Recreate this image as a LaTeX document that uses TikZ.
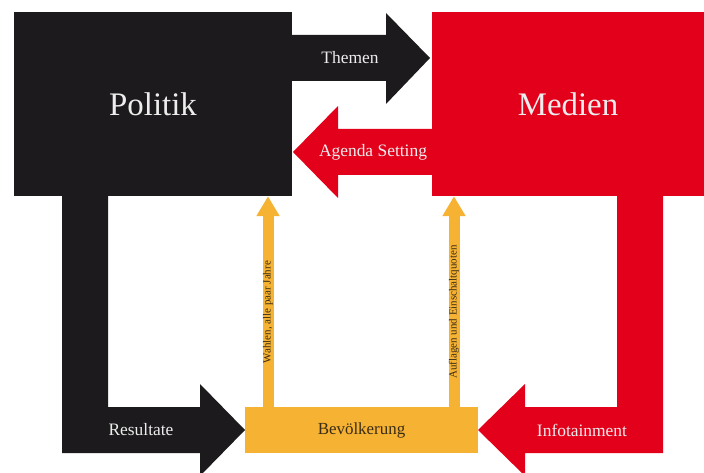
\documentclass[tikz,border=0pt]{standalone}
\usepackage{fontspec}
\setmainfont{Liberation Serif}
\usetikzlibrary{arrows.meta}
\definecolor{politikblack}{HTML}{1C1A1C}
\definecolor{medienred}{HTML}{E2001A}
\definecolor{volkyellow}{HTML}{F6B233}
\definecolor{volktext}{HTML}{3A2C16}
\tikzset{
  bigbox/.style={inner sep=0pt, text=white!93!black, font=\fontsize{33}{40}\selectfont},
  flowlabel/.style={text=white!93!black, font=\fontsize{17.5}{20}\selectfont},
  voterarrow/.style={draw=volkyellow, line width=11bp, -{Triangle[width=22bp,length=20bp]}},
  voterlabel/.style={text=volktext, font=\fontsize{11}{13}\selectfont, sloped, pos=.45}
}
\begin{document}
\begin{tikzpicture}[x=1bp,y=-1bp]
        \useasboundingbox (0,0) rectangle (704,473);

        % boxes
        \node[bigbox, fill=politikblack, minimum width=278bp, minimum height=184bp] (politik) at (153,104) {Politik};
        \node[bigbox, fill=medienred, minimum width=272bp, minimum height=184bp] (medien) at (568,104) {Medien};
        \node[inner sep=0pt, fill=volkyellow, text=volktext, font=\fontsize{17}{20}\selectfont,
              minimum width=233bp, minimum height=46bp] (volk) at (361.5,430) {Bevölkerung};

        % block arrows
        \fill[politikblack] (292,35) -- (386,35) -- (386,13) -- (430,58) -- (386,104) -- (386,81) -- (292,81) -- cycle;
        \fill[medienred] (432,129) -- (338,129) -- (338,106) -- (293,152) -- (338,198) -- (338,175) -- (432,175) -- cycle;
        \fill[politikblack] (62,196) -- (108,196) -- (108,407) -- (200,407) -- (200,384) -- (245,430)
              -- (200,476) -- (200,453) -- (62,453) -- cycle;
        \fill[medienred] (663,196) -- (617,196) -- (617,407) -- (525,407) -- (525,384) -- (478,430)
              -- (525,476) -- (525,453) -- (663,453) -- cycle;

        \begin{scope}[every node/.style={flowlabel}]
          \node (themen) at (350,58) {Themen};
          \node (agenda) at (373,152) {Agenda Setting};
          \node (resultate) at (141,430) {Resultate};
          \node (infotainment) at (582,430) {Infotainment};
        \end{scope}

        % thin arrows up from the voters
        \draw[voterarrow] (volk.north -| 268,0) -- node[voterlabel] {Wahlen, alle paar Jahre} (politik.south -| 268,0);
        \draw[voterarrow] (volk.north -| 454,0) -- node[voterlabel] {Auflagen und Einschaltquoten} (medien.south -| 454,0);

\end{tikzpicture}
\end{document}
